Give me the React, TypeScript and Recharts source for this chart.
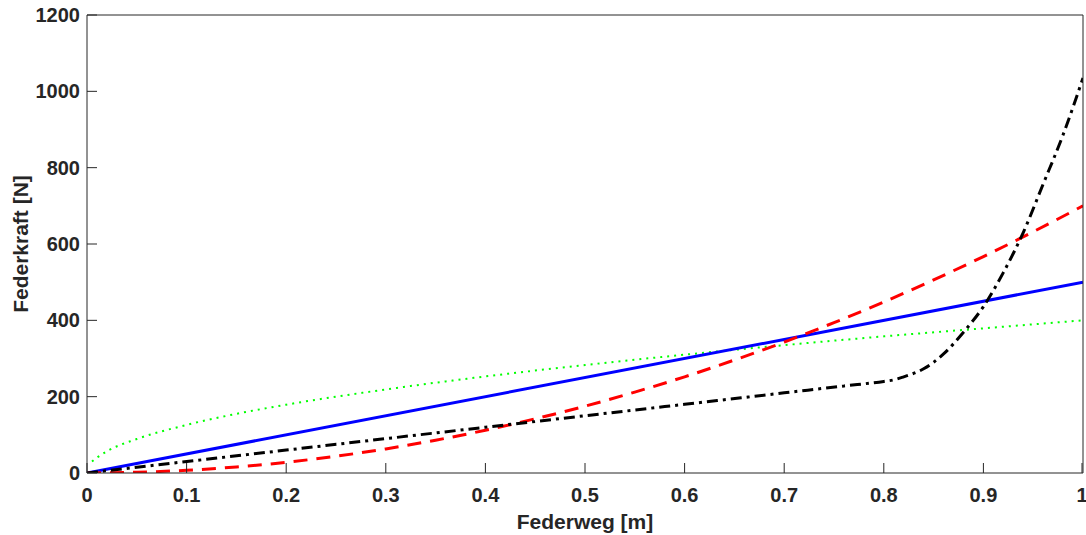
import * as React from 'react'
import { Line, LineChart, XAxis, YAxis } from 'recharts'

// Federweg [m] -> Federkraft [N]
const linearX = [0, 1]
const linearY = [0, 500]

const progX = [0, 0.05, 0.1, 0.15, 0.2, 0.25, 0.3, 0.35, 0.4, 0.45, 0.5, 0.55, 0.6, 0.65, 0.7, 0.75, 0.8, 0.85, 0.9, 0.95, 1]
const progY = [0, 2, 7, 16, 28, 44, 63, 86, 112, 142, 175, 212, 252, 296, 343, 394, 448, 506, 567, 632, 700]

const degrX = [0.005, 0.01, 0.02, 0.05, 0.1, 0.15, 0.2, 0.3, 0.4, 0.5, 0.6, 0.7, 0.8, 0.9, 1]
const degrY = [30, 40, 57, 89, 126, 155, 179, 219, 253, 283, 310, 335, 358, 379, 400]

const stopX = [0, 0.2, 0.4, 0.6, 0.7, 0.76, 0.8, 0.81, 0.82, 0.84, 0.86, 0.88, 0.9, 0.92, 0.94, 0.96, 0.98, 1]
const stopY = [0, 60, 120, 180, 210, 228, 240, 244, 252, 273, 312, 369, 436, 525, 630, 757, 886, 1035]

const xTicks = [0, 0.1, 0.2, 0.3, 0.4, 0.5, 0.6, 0.7, 0.8, 0.9, 1]
const yTicks = [0, 200, 400, 600, 800, 1000, 1200]

const toPoints = (xs: number[], ys: number[]) => xs.map((x, i) => ({ x, y: ys[i] }))

const axisColor = '#262626'
const font = 'Liberation Sans, Arial, sans-serif'
const labelStyle = { fontFamily: font, fontSize: 21, fontWeight: 700, fill: axisColor }
const TICK = 10
const GAP = 15

// inward tick marks (MATLAB style)
const BottomTick = (props: any) => (
  <g>
    <path d={`M${props.x},${props.y - GAP}v${-TICK}`} stroke={axisColor} strokeWidth={1} fill="none" />
    <text x={props.x} y={props.y} dy="0.71em" textAnchor="middle" fontFamily={font} fontSize={20} fontWeight={700} fill={axisColor}>
      {props.payload.value}
    </text>
  </g>
)
const TopTick = (props: any) => (
  <path d={`M${props.x},${props.y + GAP}v${TICK}`} stroke={axisColor} strokeWidth={1} fill="none" />
)
const LeftTick = (props: any) => (
  <g>
    <path d={`M${props.x + 7},${props.y}h${TICK}`} stroke={axisColor} strokeWidth={1} fill="none" />
    <text x={props.x} y={props.y} dy="0.355em" textAnchor="end" fontFamily={font} fontSize={20} fontWeight={700} fill={axisColor}>
      {props.payload.value}
    </text>
  </g>
)
const RightTick = (props: any) => (
  <path d={`M${props.x - GAP},${props.y}h${-TICK}`} stroke={axisColor} strokeWidth={1} fill="none" />
)

export default function App() {
  return (
    <div style={{ position: 'fixed', left: 0, top: 0, width: 1086, height: 535, overflow: 'hidden', background: '#fff' }}>
      <LineChart
        width={1086}
        height={535}
        margin={{ top: 14, right: 2, bottom: 0, left: 0 }}
      >
        <XAxis
          xAxisId="bottom"
          dataKey="x"
          type="number"
          domain={[0, 1]}
          ticks={xTicks}
          allowDataOverflow
          height={62}
          tickSize={0}
          tickMargin={GAP}
          stroke={axisColor}
          tick={BottomTick}
          label={{ value: 'Federweg [m]', position: 'insideBottom', offset: 6, style: labelStyle }}
        />
        <XAxis
          xAxisId="top"
          orientation="top"
          dataKey="x"
          type="number"
          domain={[0, 1]}
          ticks={xTicks}
          height={1}
          tickSize={0}
          tickMargin={GAP}
          stroke={axisColor}
          tick={TopTick}
        />
        <YAxis
          yAxisId="left"
          type="number"
          domain={[0, 1200]}
          ticks={yTicks}
          allowDataOverflow
          width={87}
          tickSize={0}
          tickMargin={7}
          stroke={axisColor}
          tick={LeftTick}
          label={{ value: 'Federkraft [N]', angle: -90, position: 'insideLeft', offset: 21, style: { ...labelStyle, textAnchor: 'middle' } }}
        />
        <YAxis
          yAxisId="right"
          orientation="right"
          type="number"
          domain={[0, 1200]}
          ticks={yTicks}
          width={1}
          tickSize={0}
          tickMargin={GAP}
          stroke={axisColor}
          tick={RightTick}
        />
        <Line
          xAxisId="bottom"
          yAxisId="left"
          data={toPoints(degrX, degrY)}
          dataKey="y"
          type="monotone"
          stroke="#00ff00"
          strokeWidth={2}
          strokeDasharray="2 5"
          dot={false}
          isAnimationActive={false}
        />
        <Line
          xAxisId="bottom"
          yAxisId="left"
          data={toPoints(linearX, linearY)}
          dataKey="y"
          type="linear"
          stroke="#0000ff"
          strokeWidth={3}
          dot={false}
          isAnimationActive={false}
        />
        <Line
          xAxisId="bottom"
          yAxisId="left"
          data={toPoints(progX, progY)}
          dataKey="y"
          type="monotone"
          stroke="#ff0000"
          strokeWidth={3}
          strokeDasharray="14 9"
          dot={false}
          isAnimationActive={false}
        />
        <Line
          xAxisId="bottom"
          yAxisId="left"
          data={toPoints(stopX, stopY)}
          dataKey="y"
          type="monotone"
          stroke="#000000"
          strokeWidth={3}
          strokeDasharray="11 5 3 5"
          dot={false}
          isAnimationActive={false}
        />
      </LineChart>
    </div>
  )
}
